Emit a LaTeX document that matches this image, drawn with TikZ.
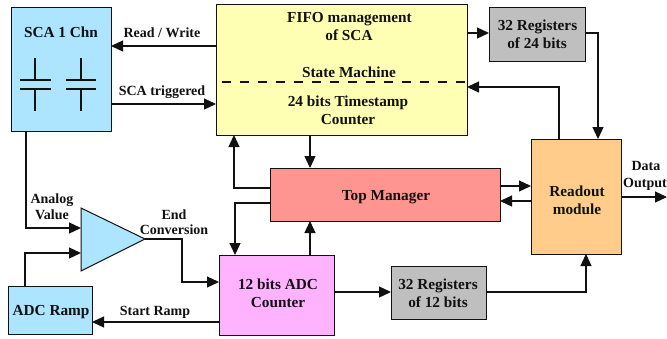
\documentclass[tikz,border=0pt]{standalone}
\usepackage{fontspec}
\setmainfont{Liberation Serif}
\usetikzlibrary{arrows.meta,calc}
\definecolor{scablue}{HTML}{ADE4FF}
\definecolor{fifoyel}{HTML}{FFFFB3}
\definecolor{topred}{HTML}{FF9590}
\definecolor{adcpink}{HTML}{FFB3FF}
\definecolor{readorange}{HTML}{FFCC8C}
\definecolor{reggray}{HTML}{BFBFBF}
\definecolor{ink}{HTML}{111111}
\tikzset{
  x=1pt,y=-1pt,
  blockbox/.style={draw=ink,line width=1pt,rectangle,anchor=north west,inner sep=0pt,outer sep=0pt},
  bigtext/.style={font=\fontsize{15.3}{15.3}\selectfont\bfseries,text=ink,inner sep=0pt,anchor=center,text height=13pt,text depth=3pt},
  smalltext/.style={font=\fontsize{14}{14}\selectfont\bfseries,text=ink,inner sep=0pt,anchor=center,text height=11pt,text depth=3pt},
  conn/.style={draw=ink,line width=1.3pt,-{Triangle[length=12pt,width=11pt]}},
  plain/.style={draw=ink,line width=1.3pt},
}
\newcommand{\blk}[6]{\node[blockbox,fill=#6,minimum width=#4pt-#2pt,minimum height=#5pt-#3pt] (#1) at (#2,#3) {};}
\begin{document}
\begin{tikzpicture}
\useasboundingbox (0,0) rectangle (667,338);
\blk{sca}{11}{7}{111}{131}{scablue}
\blk{fifo}{216}{4}{467}{135}{fifoyel}
\blk{regtop}{489}{7}{585}{61}{reggray}
\blk{readout}{531}{139}{621}{254}{readorange}
\blk{top}{270}{168}{500}{221}{topred}
\blk{adc}{219}{255}{334}{335}{adcpink}
\blk{regbot}{391}{266}{486}{319}{reggray}
\blk{ramp}{8}{286}{92}{334}{scablue}
\coordinate (tria) at (81,208);
\coordinate (trib) at (81,271);
\coordinate (tric) at (145,239);
\draw[draw=ink,line width=1pt,fill=scablue] (tria) -- (tric) -- (trib) -- cycle;
% dashed divider
\draw[draw=ink,line width=1.2pt,dash pattern=on 9pt off 9pt] (fifo.west |- 0,82) ++(6,0) -- (fifo.east |- 0,82);
% capacitors
\draw[plain] (35,58) -- (35,80);
\draw[plain] (20,80) -- (51,80);
\draw[plain] (20,89) -- (51,89);
\draw[plain] (35,89) -- (35,111);
\draw[plain] (81,58) -- (81,80);
\draw[plain] (66,80) -- (96,80);
\draw[plain] (66,89) -- (96,89);
\draw[plain] (81,89) -- (81,111);
% connectors
\draw[conn] (fifo.west |- 0,46) -- (sca.east |- 0,46);
\draw[conn] (sca.east |- 0,104) -- (fifo.west |- 0,104);
\draw[conn] (sca.south -| 26,0) |- (tria |- 0,228);
\draw[conn] (ramp.north -| 25,0) |- (tria |- 0,253);
\draw[conn] (tric) -- (182,239) -- (182,282) -- (adc.west |- 0,282);
\draw[conn] (adc.west |- 0,322) -- (ramp.east |- 0,322);
\draw[conn] (fifo.east |- 0,33) -- (regtop.west |- 0,33);
\draw[conn] (regtop.east |- 0,33) -- (598,33) -- (readout.north -| 598,0);
\draw[conn] (readout.north -| 559,0) -- (559,87) -- (fifo.east |- 0,87);
\draw[conn] (top.west |- 0,188) -- (234,188) -- (fifo.south -| 234,0);
\draw[conn] (fifo.south -| 310,0) -- (top.north -| 310,0);
\draw[conn] (top.west |- 0,203) -- (235,203) -- (adc.north -| 235,0);
\draw[conn] (adc.north -| 310,0) -- (top.south -| 310,0);
\draw[conn] (top.east |- 0,186) -- (readout.west |- 0,186);
\draw[conn] (readout.west |- 0,201) -- (top.east |- 0,201);
\coordinate (outend) at (667,197);
\draw[conn] (readout.east |- outend) -- (outend);
\draw[conn] (adc.east |- 0,292) -- (regbot.west |- 0,292);
\draw[conn] (regbot.east |- 0,292) -- (586,292) -- (readout.south -| 586,0);
% texts
\node[bigtext] (t1) at (61,32) {SCA 1 Chn};
\node[bigtext] (t2) at (349.5,17) {FIFO management};
\node[bigtext] (t3) at (349,35) {of SCA};
\node[bigtext] (t4) at (349,72) {State Machine};
\node[bigtext] (t5) at (348,101) {24 bits Timestamp};
\node[bigtext] (t6) at (348,119) {Counter};
\node[bigtext] (t7) at (537.5,25) {32 Registers};
\node[bigtext] (t8) at (537,43) {of 24 bits};
\node[bigtext] (t9) at (386,195) {Top Manager};
\node[bigtext] (t10) at (577,191) {Readout};
\node[bigtext] (t11) at (577,209) {module};
\node[bigtext] (t12) at (278,284) {12 bits ADC};
\node[bigtext] (t13) at (278,302) {Counter};
\node[bigtext] (t14) at (438,284) {32 Registers};
\node[bigtext] (t15) at (438,302) {of 12 bits};
\node[bigtext] (t16) at (51,310) {ADC Ramp};
\node[smalltext] (l1) at (162,33) {Read / Write};
\node[smalltext] (l2) at (162,91) {SCA triggered};
\node[smalltext] (l3) at (52,199) {Analog};
\node[smalltext] (l4) at (52,215) {Value};
\node[smalltext] (l5) at (174,215) {End};
\node[smalltext] (l6) at (174,230) {Conversion};
\node[smalltext] (l7) at (155,311) {Start Ramp};
\node[smalltext] (l8) at (646,166) {Data};
\node[smalltext] (l9) at (645,183) {Output};
\end{tikzpicture}
\end{document}
